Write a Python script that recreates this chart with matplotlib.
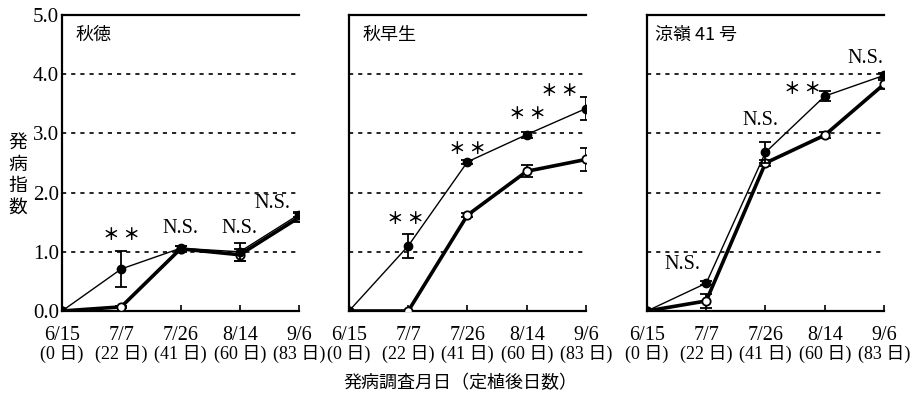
import matplotlib
matplotlib.use("agg")
import matplotlib.pyplot as plt

plt.rcParams['font.family'] = ['Liberation Serif', 'Noto Sans CJK JP']
jp = ['Noto Sans CJK JP', 'Liberation Serif']

dates = ['6/15', '7/7', '7/26', '8/14', '9/6']
days = ['0', '22', '41', '60', '83']
varieties = ['秋徳', '秋早生', '涼嶺 41 号']

# filled circles (thin line)
filled = [
    [0.0, 0.71, 1.06, 1.00, 1.63],
    [0.0, 1.10, 2.52, 2.98, 3.42],
    [0.0, 0.47, 2.68, 3.63, 3.98],
]
filled_err = [
    [0.0, 0.30, 0.04, 0.15, 0.05],
    [0.0, 0.20, 0.03, 0.05, 0.20],
    [0.0, 0.03, 0.18, 0.08, 0.04],
]
# open circles (thick line)
opened = [
    [0.0, 0.07, 1.05, 0.95, 1.58],
    [0.0, 0.0, 1.62, 2.36, 2.56],
    [0.0, 0.17, 2.50, 2.97, 3.83],
]
opened_err = [
    [0.0, 0.02, 0.05, 0.10, 0.07],
    [0.0, 0.0, 0.03, 0.10, 0.20],
    [0.0, 0.12, 0.05, 0.05, 0.08],
]
# significance marks: (index, text, y, x offset)
marks = [
    [(1, '＊ ＊', 1.13, 0.0), (2, 'N.S.', 1.23, 0.0), (3, 'N.S.', 1.23, 0.0), (4, 'N.S.', 1.65, -0.45)],
    [(1, '＊ ＊', 1.40, -0.05), (2, '＊ ＊', 2.58, 0.0), (3, '＊ ＊', 3.18, 0.02), (4, '＊ ＊', 3.56, -0.44)],
    [(1, 'N.S.', 0.62, -0.41), (2, 'N.S.', 3.06, -0.09), (3, '＊ ＊', 3.60, -0.37), (4, 'N.S.', 4.10, -0.32)],
]
name_x = [0.22, 0.22, 0.14]

fig = plt.figure(figsize=(9.2, 3.98), dpi=100)
lefts = [62, 349, 647]
x = list(range(len(dates)))

for i in range(3):
    ax = fig.add_axes([lefts[i] / 920, 1 - 311 / 398, 237 / 920, 296 / 398])
    for g in [1, 2, 3, 4]:
        ax.axhline(g, color='black', ls=(0, (2.5, 3)), lw=1.2, zorder=1)
    ax.errorbar(x, opened[i], yerr=opened_err[i], color='black', lw=2.6,
                marker='o', ms=6, mfc='white', mec='black', mew=1.3,
                capsize=4, elinewidth=1.3, capthick=1.3, zorder=3)
    ax.errorbar(x, filled[i], yerr=filled_err[i], color='black', lw=1.0,
                marker='o', ms=6, mfc='black', mec='black',
                capsize=4, elinewidth=1.3, capthick=1.3, zorder=4)
    for k, txt, yy, dx in marks[i]:
        if txt == 'N.S.':
            ax.text(k + dx, yy, txt, ha='center', va='bottom', fontsize=14.5,
                    family='Liberation Serif')
        else:
            ax.text(k + dx, yy, txt, ha='center', va='bottom', fontsize=12,
                    family=jp, fontweight='bold')
    ax.text(name_x[i], 4.66, varieties[i], ha='left', va='center', fontsize=13,
            family=jp)
    ax.set_xlim(0, 4)
    ax.set_ylim(0, 5)
    ax.set_xticks(x)
    ax.set_xticklabels(dates, fontsize=14.5)
    ax.tick_params(axis='x', direction='in', length=4, width=1.2, pad=11)
    # second row: days after planting
    for k, n in zip(x, days):
        ax.text(k, -0.145, '(%s 日)' % n, transform=ax.get_xaxis_transform(),
                ha='center', va='center', fontsize=13)
    ax.set_yticks([0, 1, 2, 3, 4, 5])
    if i == 0:
        ax.set_yticklabels(['%.1f' % v for v in [0, 1, 2, 3, 4, 5]], fontsize=15)
    else:
        ax.set_yticklabels([])
    ax.tick_params(axis='y', length=0, pad=2)
    for s in ['left', 'bottom', 'top']:
        ax.spines[s].set_linewidth(1.6)
    ax.spines['right'].set_visible(False)

fig.text(18 / 920, 1 - 175 / 398, '発\n病\n指\n数', ha='center', va='center',
         fontsize=13.5, family=jp, linespacing=1.05)
fig.text(460 / 920, 1 - 383 / 398, '発病調査月日（定植後日数）', ha='center',
         va='center', fontsize=13, family=jp)

plt.savefig('out.png', dpi=100)
plt.close()
